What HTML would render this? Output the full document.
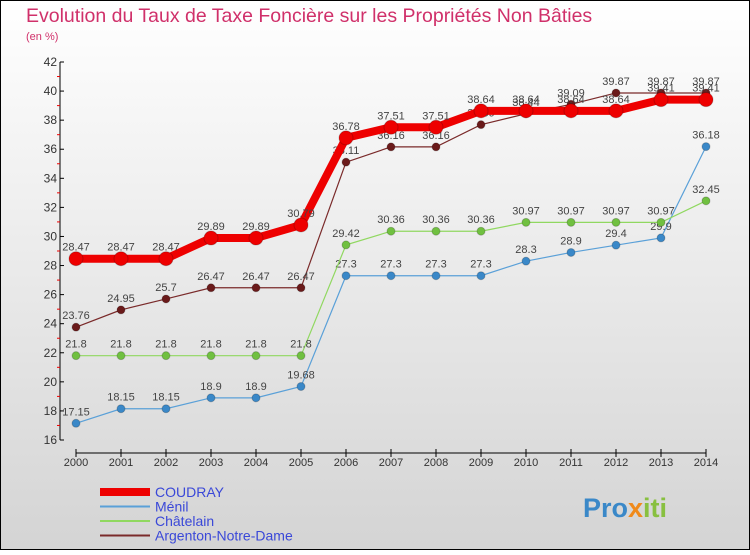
<!DOCTYPE html>
<html><head><meta charset="utf-8"><style>
body{margin:0;width:750px;height:550px;overflow:hidden;font-family:"Liberation Sans",sans-serif}
</style></head><body>
<svg id="c" width="750" height="550" xmlns="http://www.w3.org/2000/svg">
<defs><linearGradient id="bg" x1="0" y1="0" x2="0" y2="1"><stop offset="0" stop-color="#ffffff"/><stop offset="1" stop-color="#d4d4d4"/></linearGradient></defs>
<rect x="0.5" y="0.5" width="749" height="549" fill="url(#bg)" stroke="#000"/>
<text x="26" y="22" font-size="19.5" fill="#d0306a">Evolution du Taux de Taxe Foncière sur les Propriétés Non Bâties</text>
<text x="26" y="40" font-size="11" fill="#d0306a">(en %)</text>
<g id="axes"></g><g id="series"></g><g id="legend"></g>
<text x="583" y="517" font-size="27" font-weight="bold"><tspan fill="#3a88c8">Pro</tspan><tspan fill="#f08a1a">x</tspan><tspan fill="#88c040">iti</tspan></text>
</svg>
<script>
const years=[2000,2001,2002,2003,2004,2005,2006,2007,2008,2009,2010,2011,2012,2013,2014];
const yTicks=[16,18,20,22,24,26,28,30,32,34,36,38,40,42];
const coudray=[28.47,28.47,28.47,29.89,29.89,30.79,36.78,37.51,37.51,38.64,38.64,38.64,38.64,39.41,39.41];
const menil=[17.15,18.15,18.15,18.9,18.9,19.68,27.3,27.3,27.3,27.3,28.3,28.9,29.4,29.9,36.18];
const chatelain=[21.8,21.8,21.8,21.8,21.8,21.8,29.42,30.36,30.36,30.36,30.97,30.97,30.97,30.97,32.45];
const argenton=[23.76,24.95,25.7,26.47,26.47,26.47,35.11,36.16,36.16,37.69,38.44,39.09,39.87,39.87,39.87];
const NS="http://www.w3.org/2000/svg";
const X=i=>76+i*(706-76)/14, Y=v=>440-(v-16)*(440-62)/26;
function mk(p,t,a){const e=document.createElementNS(NS,t);for(const k in a)e.setAttribute(k,a[k]);p.appendChild(e);return e;}
const ax=document.getElementById('axes');
let e=mk(ax,'line',{x1:60,y1:Y(42),x2:60,y2:Y(16),stroke:'#000'});


e=mk(ax,'line',{x1:X(0),y1:453,x2:X(14),y2:453,stroke:'#000'});


for(let v=17;v<42;v+=2){mk(ax,'line',{x1:57,y1:Y(v),x2:60,y2:Y(v),stroke:'#e00'});}
yTicks.forEach(v=>{mk(ax,'line',{x1:60,y1:Y(v),x2:64,y2:Y(v),stroke:'#000'});
 const t=mk(ax,'text',{x:57,y:Y(v)+4,'font-size':12,fill:'#333','text-anchor':'end'});t.textContent=v;
 
 });
years.forEach((y,i)=>{mk(ax,'line',{x1:X(i),y1:449,x2:X(i),y2:457,stroke:'#000'});
 const t=mk(ax,'text',{x:X(i),y:466,'font-size':11,fill:'#333','text-anchor':'middle'});t.textContent=y;
 
 });
const sg=document.getElementById('series');
function series(name,vals,col,w,r,dot){
 const g=mk(sg,'g',{});
 
 
 mk(g,'polyline',{points:vals.map((v,i)=>X(i)+','+Y(v)).join(' '),fill:'none',stroke:col,'stroke-width':w});
 vals.forEach((v,i)=>{const c=mk(g,'circle',{cx:X(i),cy:Y(v),r:r,fill:dot,stroke:'#0003'});
  
  
  const t=mk(g,'text',{x:X(i),y:Y(v)-8,'font-size':11,fill:'#444','text-anchor':'middle'});t.textContent=v;
  
  });
}
series('menil',menil,'#5aa0d8',1.2,4,'#3a88c8');
series('chatelain',chatelain,'#90d860',1.2,4,'#70c040');
series('argenton',argenton,'#7a2a2a',1.2,4,'#6a1a1a');
series('coudray',coudray,'#ee0000',8,7,'#ee0000');
const lg=document.getElementById('legend');
[['COUDRAY','#ee0000',8],['Ménil','#5aa0d8',2],['Châtelain','#90d860',2],['Argenton-Notre-Dame','#7a2a2a',2]].forEach((d,i)=>{
 const y=492+i*14.5;
 const g=mk(lg,'g',{});
 
 
 mk(g,'line',{x1:100,y1:y,x2:150,y2:y,stroke:d[1],'stroke-width':d[2]});
 const t=mk(g,'text',{x:155,y:y+5,'font-size':14,fill:'#3a48d8'});t.textContent=d[0];
});
</script>
</body></html>
